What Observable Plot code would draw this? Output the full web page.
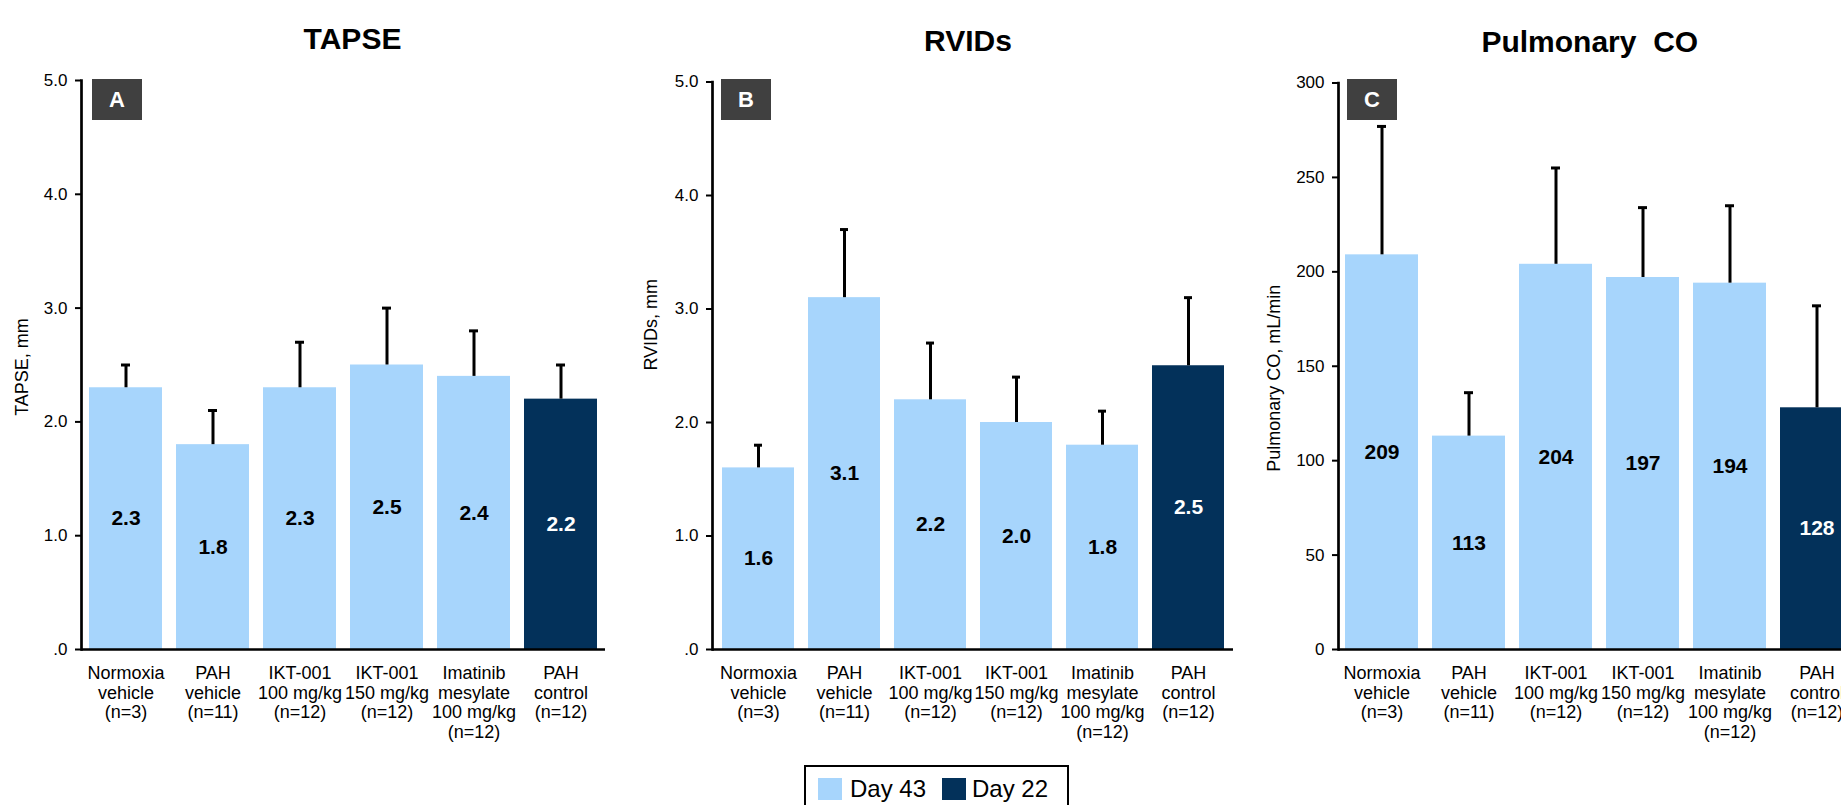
<!DOCTYPE html>
<html><head><meta charset="utf-8">
<script src="https://cdn.jsdelivr.net/npm/d3@7"></script>
<script src="https://cdn.jsdelivr.net/npm/@observablehq/plot@0.6"></script>
<style>
html,body{margin:0;padding:0;background:#fff;overflow:hidden;}
#page{position:relative;width:1841px;height:805px;overflow:hidden;font-family:Arial,"Liberation Sans",sans-serif;color:#000;}
.panel{position:absolute;top:0;height:805px;}
.panel svg{display:block;max-width:none;}
.tag{position:absolute;top:79px;width:50px;height:41px;background:#404040;color:#fff;font-weight:bold;font-size:22px;line-height:41px;text-align:center;}
#legend{position:absolute;left:804px;top:765px;width:261px;height:60px;border:2px solid #000;background:#fff;}
#legend .sw{position:absolute;top:11px;width:24px;height:22px;}
#legend .lt{position:absolute;top:10px;font-size:24px;line-height:24px;white-space:nowrap;}
</style></head>
<body><div id="page"></div>
<script>
const categories = ["Normoxia\nvehicle\n(n=3)", "PAH\nvehicle\n(n=11)", "IKT-001\n100 mg/kg\n(n=12)", "IKT-001\n150 mg/kg\n(n=12)", "Imatinib\nmesylate\n100 mg/kg\n(n=12)", "PAH\ncontrol\n(n=12)"];
const timepoints = ["Day 43", "Day 43", "Day 43", "Day 43", "Day 43", "Day 22"];
const seriesNames = ["Day 43", "Day 22"];
const seriesColors = ["#A7D5FC", "#03315A"];

const tapseMean = [2.3, 1.8, 2.3, 2.5, 2.4, 2.2];
const tapseUpper = [2.5, 2.1, 2.7, 3.0, 2.8, 2.5];
const rvidsMean = [1.6, 3.1, 2.2, 2.0, 1.8, 2.5];
const rvidsUpper = [1.8, 3.7, 2.7, 2.4, 2.1, 3.1];
const coMean = [209, 113, 204, 197, 194, 128];
const coUpper = [277, 136, 255, 234, 235, 182];

const mmTicks = [0, 1, 2, 3, 4, 5];
const coTicks = [0, 50, 100, 150, 200, 250, 300];

const FONT = 'Arial, "Liberation Sans", sans-serif';
const mmFmt = d => d === 0 ? ".0" : d.toFixed(1);

function panel(o) {
  const rows = categories.map((c, i) => ({cat: c, tp: timepoints[i], v: o.mean[i], hi: o.upper[i]}));
  return Plot.plot({
    width: o.width, height: 805,
    marginLeft: o.ml, marginRight: o.mr, marginTop: o.mt, marginBottom: 156,
    style: {fontFamily: FONT, background: "transparent", color: "#000", overflow: "visible"},
    x: {domain: categories, paddingInner: 0.164, paddingOuter: 0.082, axis: null},
    y: {domain: o.domain, axis: null},
    color: {domain: seriesNames, range: seriesColors},
    marks: [
      Plot.barY(rows, {x: "cat", y: "v", fill: "tp"}),
      Plot.ruleX(rows, {x: "cat", y1: "v", y2: "hi", stroke: "#000", strokeWidth: 3}),
      Plot.tickY(rows, {x: "cat", y: "hi", stroke: "#000", strokeWidth: 3, insetLeft: 32, insetRight: 32}),
      Plot.text(rows, {filter: d => d.tp === "Day 43", x: "cat", y: d => d.v / 2, text: d => o.fmt(d.v), fill: "#000", fontSize: 21, fontWeight: "bold"}),
      Plot.text(rows, {filter: d => d.tp === "Day 22", x: "cat", y: d => d.v / 2, text: d => o.fmt(d.v), fill: "#fff", fontSize: 21, fontWeight: "bold"}),
      Plot.axisY({ticks: o.ticks, tickFormat: o.tickFmt, tickSize: 6, tickPadding: 8, fontSize: 17, strokeWidth: 2, label: null}),
      Plot.axisX({tickSize: 0, tickPadding: 16, fontSize: 18, lineHeight: 1.08, label: null}),
      Plot.ruleY([0], {stroke: "#000", strokeWidth: 2.7}),
      Plot.frame({anchor: "left", stroke: "#000", strokeWidth: 2.7}),
      Plot.text([o.title], {frameAnchor: "top", textAnchor: "middle", lineAnchor: "middle", dx: o.titleDx, dy: -41, fontSize: 30, fontWeight: "bold"}),
      Plot.text([o.yLabel], {frameAnchor: "left", textAnchor: "middle", lineAnchor: "middle", dx: o.labelDx, dy: o.labelDy, rotate: -90, fontSize: 18})
    ]
  });
}

const page = document.getElementById("page");
const panels = [
  {left: 0, width: 620, ml: 81, mr: 15, mt: 80, title: "TAPSE", titleDx: 9, yLabel: "TAPSE, mm", labelDx: -59.5, labelDy: 2,
   mean: tapseMean, upper: tapseUpper, domain: [0, 5], ticks: mmTicks, tickFmt: mmFmt, fmt: d => d.toFixed(1), tag: "A", tagLeft: 92},
  {left: 620, width: 620, ml: 92, mr: 7, mt: 81.5, title: "RVIDs", titleDx: -5, yLabel: "RVIDs, mm", labelDx: -61, labelDy: -41,
   mean: rvidsMean, upper: rvidsUpper, domain: [0, 5], ticks: mmTicks, tickFmt: mmFmt, fmt: d => d.toFixed(1), tag: "B", tagLeft: 721},
  {left: 1240, width: 640, ml: 98, mr: 19.4, mt: 82.5, title: "Pulmonary  CO", titleDx: -10, yLabel: "Pulmonary CO, mL/min", labelDx: -64.5, labelDy: 12,
   mean: coMean, upper: coUpper, domain: [0, 300], ticks: coTicks, tickFmt: d => String(d), fmt: d => String(d), tag: "C", tagLeft: 1347}
];
for (const p of panels) {
  const div = document.createElement("div");
  div.className = "panel";
  div.style.left = p.left + "px";
  div.style.width = p.width + "px";
  div.appendChild(panel(p));
  page.appendChild(div);
  const tag = document.createElement("div");
  tag.className = "tag";
  tag.style.left = p.tagLeft + "px";
  tag.textContent = p.tag;
  page.appendChild(tag);
}

const legend = document.createElement("div");
legend.id = "legend";
const legendPos = [{sw: 12, tx: 44}, {sw: 136, tx: 166}];
seriesNames.forEach((name, i) => {
  const sw = document.createElement("div");
  sw.className = "sw";
  sw.style.left = legendPos[i].sw + "px";
  sw.style.background = seriesColors[i];
  legend.appendChild(sw);
  const t = document.createElement("div");
  t.className = "lt";
  t.style.left = legendPos[i].tx + "px";
  t.textContent = name;
  legend.appendChild(t);
});
page.appendChild(legend);
</script>
</body></html>
